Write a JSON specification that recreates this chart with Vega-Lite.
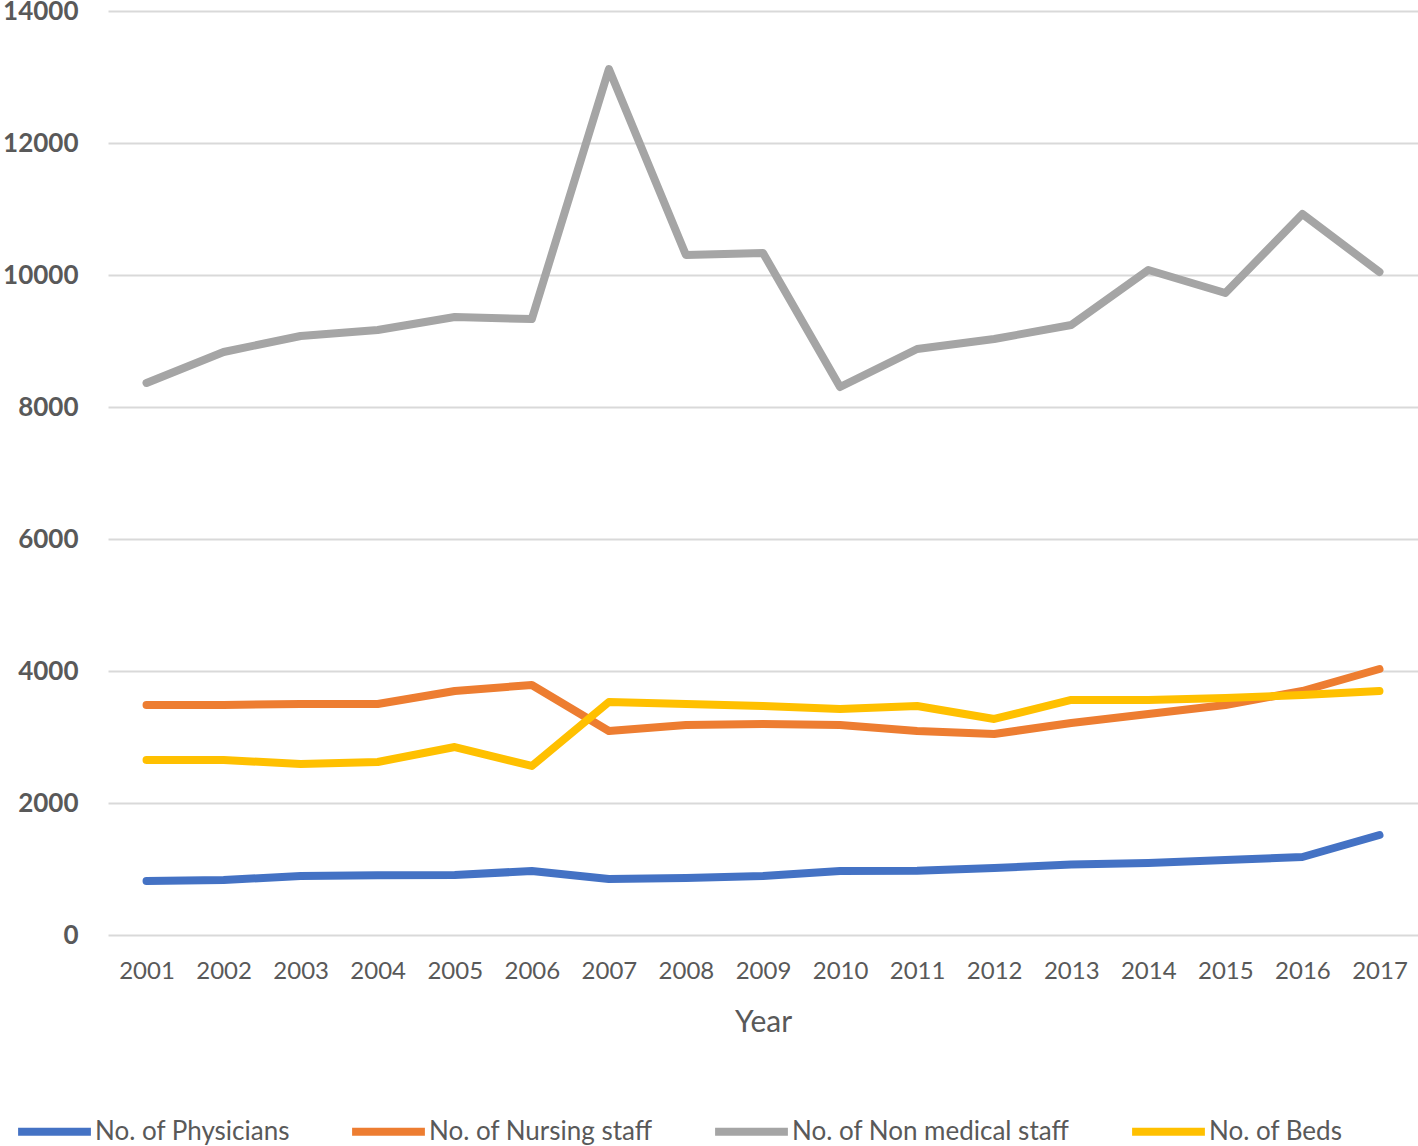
{
  "$schema": "https://vega.github.io/schema/vega-lite/v6.json",
  "width": 1310,
  "height": 924,
  "autosize": {"type": "none"},
  "padding": {"left": 108, "top": 11, "right": 0, "bottom": 211},
  "background": "white",
  "config": {
    "view": {"stroke": null},
    "font": "Lato"
  },
  "data": {
    "values": [
      {"Year": "2001", "series": "No. of Physicians", "value": 818},
      {"Year": "2002", "series": "No. of Physicians", "value": 833},
      {"Year": "2003", "series": "No. of Physicians", "value": 894},
      {"Year": "2004", "series": "No. of Physicians", "value": 905},
      {"Year": "2005", "series": "No. of Physicians", "value": 909},
      {"Year": "2006", "series": "No. of Physicians", "value": 970},
      {"Year": "2007", "series": "No. of Physicians", "value": 848},
      {"Year": "2008", "series": "No. of Physicians", "value": 864},
      {"Year": "2009", "series": "No. of Physicians", "value": 894},
      {"Year": "2010", "series": "No. of Physicians", "value": 970},
      {"Year": "2011", "series": "No. of Physicians", "value": 975},
      {"Year": "2012", "series": "No. of Physicians", "value": 1015},
      {"Year": "2013", "series": "No. of Physicians", "value": 1070},
      {"Year": "2014", "series": "No. of Physicians", "value": 1091},
      {"Year": "2015", "series": "No. of Physicians", "value": 1136},
      {"Year": "2016", "series": "No. of Physicians", "value": 1182},
      {"Year": "2017", "series": "No. of Physicians", "value": 1515},
      {"Year": "2001", "series": "No. of Nursing staff", "value": 3485},
      {"Year": "2002", "series": "No. of Nursing staff", "value": 3485},
      {"Year": "2003", "series": "No. of Nursing staff", "value": 3500},
      {"Year": "2004", "series": "No. of Nursing staff", "value": 3500},
      {"Year": "2005", "series": "No. of Nursing staff", "value": 3697},
      {"Year": "2006", "series": "No. of Nursing staff", "value": 3788},
      {"Year": "2007", "series": "No. of Nursing staff", "value": 3091},
      {"Year": "2008", "series": "No. of Nursing staff", "value": 3182},
      {"Year": "2009", "series": "No. of Nursing staff", "value": 3197},
      {"Year": "2010", "series": "No. of Nursing staff", "value": 3182},
      {"Year": "2011", "series": "No. of Nursing staff", "value": 3091},
      {"Year": "2012", "series": "No. of Nursing staff", "value": 3045},
      {"Year": "2013", "series": "No. of Nursing staff", "value": 3212},
      {"Year": "2014", "series": "No. of Nursing staff", "value": 3349},
      {"Year": "2015", "series": "No. of Nursing staff", "value": 3485},
      {"Year": "2016", "series": "No. of Nursing staff", "value": 3697},
      {"Year": "2017", "series": "No. of Nursing staff", "value": 4030},
      {"Year": "2001", "series": "No. of Non medical staff", "value": 8364},
      {"Year": "2002", "series": "No. of Non medical staff", "value": 8833},
      {"Year": "2003", "series": "No. of Non medical staff", "value": 9076},
      {"Year": "2004", "series": "No. of Non medical staff", "value": 9167},
      {"Year": "2005", "series": "No. of Non medical staff", "value": 9364},
      {"Year": "2006", "series": "No. of Non medical staff", "value": 9333},
      {"Year": "2007", "series": "No. of Non medical staff", "value": 13120},
      {"Year": "2008", "series": "No. of Non medical staff", "value": 10303},
      {"Year": "2009", "series": "No. of Non medical staff", "value": 10333},
      {"Year": "2010", "series": "No. of Non medical staff", "value": 8303},
      {"Year": "2011", "series": "No. of Non medical staff", "value": 8879},
      {"Year": "2012", "series": "No. of Non medical staff", "value": 9030},
      {"Year": "2013", "series": "No. of Non medical staff", "value": 9242},
      {"Year": "2014", "series": "No. of Non medical staff", "value": 10076},
      {"Year": "2015", "series": "No. of Non medical staff", "value": 9727},
      {"Year": "2016", "series": "No. of Non medical staff", "value": 10924},
      {"Year": "2017", "series": "No. of Non medical staff", "value": 10045},
      {"Year": "2001", "series": "No. of Beds", "value": 2652},
      {"Year": "2002", "series": "No. of Beds", "value": 2652},
      {"Year": "2003", "series": "No. of Beds", "value": 2591},
      {"Year": "2004", "series": "No. of Beds", "value": 2621},
      {"Year": "2005", "series": "No. of Beds", "value": 2848},
      {"Year": "2006", "series": "No. of Beds", "value": 2561},
      {"Year": "2007", "series": "No. of Beds", "value": 3530},
      {"Year": "2008", "series": "No. of Beds", "value": 3500},
      {"Year": "2009", "series": "No. of Beds", "value": 3470},
      {"Year": "2010", "series": "No. of Beds", "value": 3424},
      {"Year": "2011", "series": "No. of Beds", "value": 3470},
      {"Year": "2012", "series": "No. of Beds", "value": 3273},
      {"Year": "2013", "series": "No. of Beds", "value": 3561},
      {"Year": "2014", "series": "No. of Beds", "value": 3561},
      {"Year": "2015", "series": "No. of Beds", "value": 3591},
      {"Year": "2016", "series": "No. of Beds", "value": 3636},
      {"Year": "2017", "series": "No. of Beds", "value": 3697}
    ]
  },
  "mark": {"type": "line", "strokeWidth": 8, "strokeCap": "round", "strokeJoin": "round"},
  "encoding": {
    "x": {
      "field": "Year",
      "type": "ordinal",
      "scale": {"type": "point", "padding": 0.5},
      "axis": {
        "title": "Year",
        "titleFont": "Lato",
        "titleFontSize": 30,
        "titleFontWeight": "normal",
        "titleColor": "#595959",
        "titlePadding": 24,
        "labelAngle": 0,
        "labelFont": "Lato",
        "labelFontSize": 24,
        "labelColor": "#595959",
        "labelPadding": 24,
        "ticks": false,
        "domain": false,
        "grid": false
      }
    },
    "y": {
      "field": "value",
      "type": "quantitative",
      "scale": {"domain": [0, 14000], "nice": false},
      "axis": {
        "title": null,
        "values": [0, 2000, 4000, 6000, 8000, 10000, 12000, 14000],
        "format": "d",
        "labelFont": "Lato",
        "labelFontSize": 26,
        "labelFontWeight": "bold",
        "labelColor": "#595959",
        "labelPadding": 30,
        "ticks": false,
        "domain": false,
        "grid": true,
        "gridColor": "#D9D9D9",
        "gridWidth": 2
      }
    },
    "color": {
      "field": "series",
      "type": "nominal",
      "sort": ["No. of Physicians", "No. of Nursing staff", "No. of Non medical staff", "No. of Beds"],
      "scale": {
        "domain": ["No. of Physicians", "No. of Nursing staff", "No. of Non medical staff", "No. of Beds"],
        "range": ["#4472C4", "#ED7D31", "#A5A5A5", "#FFC000"]
      },
      "legend": {
        "title": null,
        "orient": "none",
        "direction": "horizontal",
        "columns": 4,
        "legendX": -94,
        "legendY": 1080,
        "padding": 0,
        "symbolType": "stroke",
        "symbolSize": 5300,
        "symbolStrokeWidth": 8,
        "symbolOffset": 0,
        "labelFont": "Lato",
        "labelFontSize": 26,
        "labelColor": "#595959",
        "labelOffset": 0,
        "labelLimit": 500,
        "columnPadding": 46
      }
    }
  }
}
